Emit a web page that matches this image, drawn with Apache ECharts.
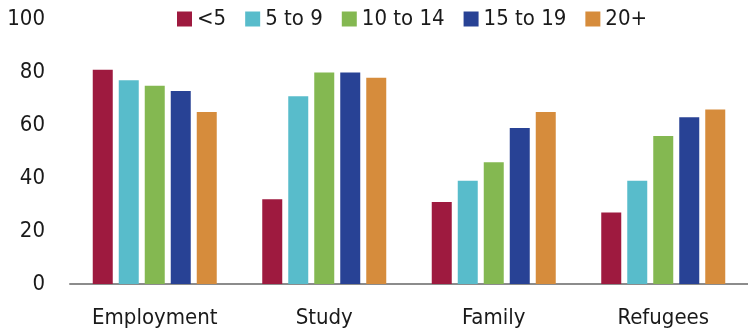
<!DOCTYPE html>
<html>
<head>
<meta charset="utf-8">
<script src="https://cdn.jsdelivr.net/npm/echarts@6/dist/echarts.min.js"></script>
<style>
  html, body { margin: 0; padding: 0; background: #fff; }
  #chartDom { width: 748px; height: 332px; }
</style>
</head>
<body>
<div id="chartDom"></div>
<script>
const categories = ['Employment', 'Study', 'Family', 'Refugees']
const seriesNames = ['<5', '5 to 9', '10 to 14', '15 to 19', '20+']
const under5 = [81, 32, 31, 27]
const age5to9 = [77, 71, 39, 39]
const age10to14 = [75, 80, 46, 56]
const age15to19 = [73, 80, 59, 63]
const age20plus = [65, 78, 65, 66]
const yTicks = { min: 0, max: 100, interval: 20 }
const colors = ['#9e1a3f', '#58bccb', '#84b851', '#284295', '#d68c3c']

const font = '"DejaVu Sans Condensed", "DejaVu Sans", sans-serif'
const textColor = '#1a1a1a'

const chart = echarts.init(document.getElementById('chartDom'))
const values = [under5, age5to9, age10to14, age15to19, age20plus]

const option = {
  animation: false,
  color: colors,
  textStyle: { fontFamily: font },
  legend: {
    left: 172,
    top: 3,
    icon: 'rect',
    itemWidth: 15,
    itemHeight: 15,
    itemGap: 19,
    textStyle: { fontFamily: font, fontSize: 22, color: textColor },
    data: seriesNames
  },
  grid: {
    left: 70,
    right: -6,
    top: 19.5,
    bottom: 48,
    containLabel: false
  },
  xAxis: {
    type: 'category',
    data: categories,
    axisTick: { show: false },
    axisLine: { show: true, lineStyle: { color: '#8c8c8c', width: 2 } },
    axisLabel: { fontFamily: font, fontSize: 22, color: textColor, margin: 23, interval: 0 }
  },
  yAxis: {
    type: 'value',
    min: yTicks.min,
    max: yTicks.max,
    interval: yTicks.interval,
    splitLine: { show: false },
    axisLine: { show: false },
    axisTick: { show: false },
    axisLabel: { fontFamily: font, fontSize: 22, color: textColor, margin: 25 }
  },
  series: seriesNames.map((name, i) => ({
    name: name,
    type: 'bar',
    barWidth: 20,
    barGap: '30%',
    data: values[i]
  }))
}
chart.setOption(option)
</script>
</body>
</html>
